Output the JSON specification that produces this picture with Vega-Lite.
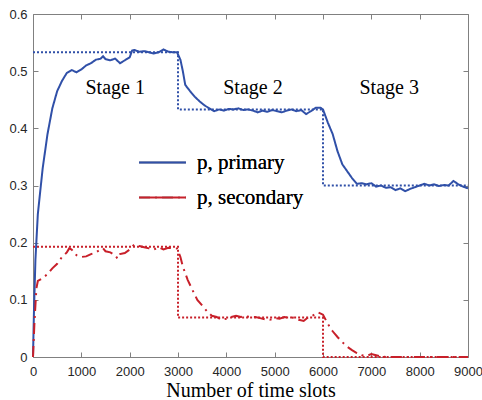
{
  "$schema": "https://vega.github.io/schema/vega-lite/v6.json",
  "width": 435,
  "height": 343,
  "autosize": "none",
  "padding": {"left": 33, "top": 14, "right": 14, "bottom": 43},
  "background": "white",
  "config": {
    "view": {"stroke": null},
    "axis": {
      "grid": false,
      "domainColor": "#808080",
      "tickColor": "#808080",
      "tickSize": -5,
      "labelFlush": false,
      "labelFont": "Liberation Sans",
      "labelFontSize": 13,
      "labelColor": "#262626",
      "titleFont": "Liberation Serif",
      "titleFontSize": 20,
      "titleFontWeight": "normal",
      "titleColor": "#000000"
    },
    "legend": {
      "orient": "none",
      "legendX": 105,
      "legendY": 124,
      "title": null,
      "labelFont": "Liberation Serif",
      "labelFontSize": 21,
      "labelColor": "#000000",
      "symbolType": "stroke",
      "symbolSize": 2200,
      "symbolStrokeWidth": 2,
      "labelOffset": 10,
      "rowPadding": -4
    }
  },
  "datasets": {
    "curves": [
      {"t": 0, "value": 0, "series": "p, primary"},
      {"t": 20, "value": 0.08, "series": "p, primary"},
      {"t": 50, "value": 0.17, "series": "p, primary"},
      {"t": 100, "value": 0.25, "series": "p, primary"},
      {"t": 150, "value": 0.29, "series": "p, primary"},
      {"t": 200, "value": 0.33, "series": "p, primary"},
      {"t": 300, "value": 0.39, "series": "p, primary"},
      {"t": 400, "value": 0.435, "series": "p, primary"},
      {"t": 500, "value": 0.465, "series": "p, primary"},
      {"t": 600, "value": 0.483, "series": "p, primary"},
      {"t": 700, "value": 0.497, "series": "p, primary"},
      {"t": 800, "value": 0.502, "series": "p, primary"},
      {"t": 900, "value": 0.498, "series": "p, primary"},
      {"t": 1000, "value": 0.503, "series": "p, primary"},
      {"t": 1100, "value": 0.51, "series": "p, primary"},
      {"t": 1200, "value": 0.514, "series": "p, primary"},
      {"t": 1300, "value": 0.52, "series": "p, primary"},
      {"t": 1400, "value": 0.522, "series": "p, primary"},
      {"t": 1450, "value": 0.526, "series": "p, primary"},
      {"t": 1500, "value": 0.521, "series": "p, primary"},
      {"t": 1600, "value": 0.519, "series": "p, primary"},
      {"t": 1700, "value": 0.522, "series": "p, primary"},
      {"t": 1800, "value": 0.514, "series": "p, primary"},
      {"t": 1900, "value": 0.519, "series": "p, primary"},
      {"t": 2000, "value": 0.524, "series": "p, primary"},
      {"t": 2050, "value": 0.536, "series": "p, primary"},
      {"t": 2100, "value": 0.537, "series": "p, primary"},
      {"t": 2200, "value": 0.534, "series": "p, primary"},
      {"t": 2300, "value": 0.535, "series": "p, primary"},
      {"t": 2400, "value": 0.533, "series": "p, primary"},
      {"t": 2500, "value": 0.531, "series": "p, primary"},
      {"t": 2600, "value": 0.533, "series": "p, primary"},
      {"t": 2700, "value": 0.538, "series": "p, primary"},
      {"t": 2800, "value": 0.534, "series": "p, primary"},
      {"t": 2900, "value": 0.533, "series": "p, primary"},
      {"t": 2980, "value": 0.533, "series": "p, primary"},
      {"t": 3050, "value": 0.52, "series": "p, primary"},
      {"t": 3100, "value": 0.5, "series": "p, primary"},
      {"t": 3150, "value": 0.476, "series": "p, primary"},
      {"t": 3250, "value": 0.465, "series": "p, primary"},
      {"t": 3350, "value": 0.455, "series": "p, primary"},
      {"t": 3450, "value": 0.447, "series": "p, primary"},
      {"t": 3550, "value": 0.44, "series": "p, primary"},
      {"t": 3650, "value": 0.435, "series": "p, primary"},
      {"t": 3750, "value": 0.43, "series": "p, primary"},
      {"t": 3850, "value": 0.433, "series": "p, primary"},
      {"t": 3950, "value": 0.431, "series": "p, primary"},
      {"t": 4050, "value": 0.434, "series": "p, primary"},
      {"t": 4150, "value": 0.433, "series": "p, primary"},
      {"t": 4250, "value": 0.435, "series": "p, primary"},
      {"t": 4350, "value": 0.432, "series": "p, primary"},
      {"t": 4450, "value": 0.433, "series": "p, primary"},
      {"t": 4550, "value": 0.431, "series": "p, primary"},
      {"t": 4650, "value": 0.428, "series": "p, primary"},
      {"t": 4750, "value": 0.431, "series": "p, primary"},
      {"t": 4850, "value": 0.429, "series": "p, primary"},
      {"t": 4950, "value": 0.432, "series": "p, primary"},
      {"t": 5050, "value": 0.43, "series": "p, primary"},
      {"t": 5150, "value": 0.428, "series": "p, primary"},
      {"t": 5250, "value": 0.431, "series": "p, primary"},
      {"t": 5350, "value": 0.433, "series": "p, primary"},
      {"t": 5450, "value": 0.43, "series": "p, primary"},
      {"t": 5550, "value": 0.432, "series": "p, primary"},
      {"t": 5650, "value": 0.425, "series": "p, primary"},
      {"t": 5750, "value": 0.43, "series": "p, primary"},
      {"t": 5850, "value": 0.436, "series": "p, primary"},
      {"t": 5950, "value": 0.436, "series": "p, primary"},
      {"t": 6000, "value": 0.433, "series": "p, primary"},
      {"t": 6100, "value": 0.41, "series": "p, primary"},
      {"t": 6200, "value": 0.39, "series": "p, primary"},
      {"t": 6300, "value": 0.36, "series": "p, primary"},
      {"t": 6400, "value": 0.337, "series": "p, primary"},
      {"t": 6500, "value": 0.325, "series": "p, primary"},
      {"t": 6600, "value": 0.313, "series": "p, primary"},
      {"t": 6700, "value": 0.303, "series": "p, primary"},
      {"t": 6800, "value": 0.304, "series": "p, primary"},
      {"t": 6900, "value": 0.302, "series": "p, primary"},
      {"t": 7000, "value": 0.304, "series": "p, primary"},
      {"t": 7100, "value": 0.298, "series": "p, primary"},
      {"t": 7200, "value": 0.3, "series": "p, primary"},
      {"t": 7300, "value": 0.296, "series": "p, primary"},
      {"t": 7400, "value": 0.297, "series": "p, primary"},
      {"t": 7500, "value": 0.292, "series": "p, primary"},
      {"t": 7600, "value": 0.295, "series": "p, primary"},
      {"t": 7700, "value": 0.29, "series": "p, primary"},
      {"t": 7800, "value": 0.294, "series": "p, primary"},
      {"t": 7900, "value": 0.297, "series": "p, primary"},
      {"t": 8000, "value": 0.3, "series": "p, primary"},
      {"t": 8100, "value": 0.303, "series": "p, primary"},
      {"t": 8200, "value": 0.3, "series": "p, primary"},
      {"t": 8300, "value": 0.302, "series": "p, primary"},
      {"t": 8400, "value": 0.299, "series": "p, primary"},
      {"t": 8500, "value": 0.301, "series": "p, primary"},
      {"t": 8600, "value": 0.3, "series": "p, primary"},
      {"t": 8700, "value": 0.308, "series": "p, primary"},
      {"t": 8800, "value": 0.302, "series": "p, primary"},
      {"t": 8900, "value": 0.298, "series": "p, primary"},
      {"t": 9000, "value": 0.295, "series": "p, primary"},
      {"t": 0, "value": 0, "series": "p, secondary"},
      {"t": 30, "value": 0.06, "series": "p, secondary"},
      {"t": 70, "value": 0.12, "series": "p, secondary"},
      {"t": 100, "value": 0.133, "series": "p, secondary"},
      {"t": 200, "value": 0.138, "series": "p, secondary"},
      {"t": 300, "value": 0.145, "series": "p, secondary"},
      {"t": 400, "value": 0.155, "series": "p, secondary"},
      {"t": 500, "value": 0.163, "series": "p, secondary"},
      {"t": 600, "value": 0.175, "series": "p, secondary"},
      {"t": 700, "value": 0.183, "series": "p, secondary"},
      {"t": 750, "value": 0.19, "series": "p, secondary"},
      {"t": 800, "value": 0.188, "series": "p, secondary"},
      {"t": 900, "value": 0.178, "series": "p, secondary"},
      {"t": 1000, "value": 0.175, "series": "p, secondary"},
      {"t": 1100, "value": 0.176, "series": "p, secondary"},
      {"t": 1200, "value": 0.18, "series": "p, secondary"},
      {"t": 1300, "value": 0.183, "series": "p, secondary"},
      {"t": 1400, "value": 0.188, "series": "p, secondary"},
      {"t": 1450, "value": 0.19, "series": "p, secondary"},
      {"t": 1500, "value": 0.185, "series": "p, secondary"},
      {"t": 1600, "value": 0.183, "series": "p, secondary"},
      {"t": 1700, "value": 0.178, "series": "p, secondary"},
      {"t": 1750, "value": 0.172, "series": "p, secondary"},
      {"t": 1800, "value": 0.18, "series": "p, secondary"},
      {"t": 1900, "value": 0.182, "series": "p, secondary"},
      {"t": 2000, "value": 0.188, "series": "p, secondary"},
      {"t": 2100, "value": 0.197, "series": "p, secondary"},
      {"t": 2200, "value": 0.194, "series": "p, secondary"},
      {"t": 2300, "value": 0.192, "series": "p, secondary"},
      {"t": 2400, "value": 0.19, "series": "p, secondary"},
      {"t": 2500, "value": 0.188, "series": "p, secondary"},
      {"t": 2600, "value": 0.192, "series": "p, secondary"},
      {"t": 2700, "value": 0.188, "series": "p, secondary"},
      {"t": 2800, "value": 0.191, "series": "p, secondary"},
      {"t": 2900, "value": 0.19, "series": "p, secondary"},
      {"t": 2980, "value": 0.19, "series": "p, secondary"},
      {"t": 3050, "value": 0.175, "series": "p, secondary"},
      {"t": 3100, "value": 0.158, "series": "p, secondary"},
      {"t": 3200, "value": 0.135, "series": "p, secondary"},
      {"t": 3300, "value": 0.117, "series": "p, secondary"},
      {"t": 3400, "value": 0.1, "series": "p, secondary"},
      {"t": 3500, "value": 0.09, "series": "p, secondary"},
      {"t": 3600, "value": 0.08, "series": "p, secondary"},
      {"t": 3700, "value": 0.072, "series": "p, secondary"},
      {"t": 3800, "value": 0.07, "series": "p, secondary"},
      {"t": 3900, "value": 0.065, "series": "p, secondary"},
      {"t": 4000, "value": 0.067, "series": "p, secondary"},
      {"t": 4100, "value": 0.07, "series": "p, secondary"},
      {"t": 4200, "value": 0.072, "series": "p, secondary"},
      {"t": 4300, "value": 0.07, "series": "p, secondary"},
      {"t": 4400, "value": 0.071, "series": "p, secondary"},
      {"t": 4500, "value": 0.07, "series": "p, secondary"},
      {"t": 4600, "value": 0.07, "series": "p, secondary"},
      {"t": 4700, "value": 0.068, "series": "p, secondary"},
      {"t": 4800, "value": 0.066, "series": "p, secondary"},
      {"t": 4900, "value": 0.065, "series": "p, secondary"},
      {"t": 5000, "value": 0.068, "series": "p, secondary"},
      {"t": 5100, "value": 0.067, "series": "p, secondary"},
      {"t": 5200, "value": 0.07, "series": "p, secondary"},
      {"t": 5300, "value": 0.068, "series": "p, secondary"},
      {"t": 5400, "value": 0.069, "series": "p, secondary"},
      {"t": 5500, "value": 0.065, "series": "p, secondary"},
      {"t": 5600, "value": 0.063, "series": "p, secondary"},
      {"t": 5700, "value": 0.07, "series": "p, secondary"},
      {"t": 5800, "value": 0.073, "series": "p, secondary"},
      {"t": 5900, "value": 0.078, "series": "p, secondary"},
      {"t": 6000, "value": 0.074, "series": "p, secondary"},
      {"t": 6100, "value": 0.058, "series": "p, secondary"},
      {"t": 6200, "value": 0.045, "series": "p, secondary"},
      {"t": 6300, "value": 0.035, "series": "p, secondary"},
      {"t": 6400, "value": 0.026, "series": "p, secondary"},
      {"t": 6500, "value": 0.018, "series": "p, secondary"},
      {"t": 6600, "value": 0.012, "series": "p, secondary"},
      {"t": 6700, "value": 0.007, "series": "p, secondary"},
      {"t": 6800, "value": 0.003, "series": "p, secondary"},
      {"t": 6900, "value": 0.002, "series": "p, secondary"},
      {"t": 7000, "value": 0.005, "series": "p, secondary"},
      {"t": 7100, "value": 0.003, "series": "p, secondary"},
      {"t": 7200, "value": 0.001, "series": "p, secondary"},
      {"t": 7300, "value": 0, "series": "p, secondary"},
      {"t": 8000, "value": 0, "series": "p, secondary"},
      {"t": 9000, "value": 0, "series": "p, secondary"}
    ],
    "targets": [
      {"i": 0, "t": 0, "value": 0.533, "series": "primary target"},
      {"i": 1, "t": 3000, "value": 0.533, "series": "primary target"},
      {"i": 2, "t": 3000, "value": 0.433, "series": "primary target"},
      {"i": 3, "t": 6000, "value": 0.433, "series": "primary target"},
      {"i": 4, "t": 6000, "value": 0.3, "series": "primary target"},
      {"i": 5, "t": 9000, "value": 0.3, "series": "primary target"},
      {"i": 0, "t": 0, "value": 0.193, "series": "secondary target"},
      {"i": 1, "t": 3000, "value": 0.193, "series": "secondary target"},
      {"i": 2, "t": 3000, "value": 0.069, "series": "secondary target"},
      {"i": 3, "t": 6000, "value": 0.069, "series": "secondary target"},
      {"i": 4, "t": 6000, "value": 0.0, "series": "secondary target"},
      {"i": 5, "t": 9000, "value": 0.0, "series": "secondary target"}
    ],
    "stages": [
      {"t": 1700, "value": 0.47, "label": "Stage 1"},
      {"t": 4550, "value": 0.47, "label": "Stage 2"},
      {"t": 7370, "value": 0.47, "label": "Stage 3"}
    ]
  },
  "layer": [
    {
      "data": {"name": "targets"},
      "mark": {"type": "line", "strokeDash": [2, 2], "strokeWidth": 2, "clip": false},
      "encoding": {
        "x": {"field": "t", "type": "quantitative", "scale": {"domain": [0, 9000], "nice": false},
              "axis": {"orient": "top", "labels": false, "title": null, "values": [0,1000,2000,3000,4000,5000,6000,7000,8000,9000]}},
        "y": {"field": "value", "type": "quantitative", "scale": {"domain": [0, 0.6], "nice": false},
              "axis": {"orient": "right", "labels": false, "title": null, "values": [0,0.1,0.2,0.3,0.4,0.5,0.6]}},
        "color": {"field": "series", "type": "nominal",
                  "scale": {"domain": ["primary target", "secondary target"], "range": ["#3050a8", "#c8202a"]}, "legend": null},
        "order": {"field": "i", "type": "quantitative"}
      }
    },
    {
      "data": {"name": "curves"},
      "mark": {"type": "line", "strokeWidth": 2},
      "encoding": {
        "x": {"field": "t", "type": "quantitative",
              "axis": {"orient": "bottom", "title": "Number of time slots", "format": "d", "labelPadding": 13, "titlePadding": 2,
                       "values": [0,1000,2000,3000,4000,5000,6000,7000,8000,9000]}},
        "y": {"field": "value", "type": "quantitative",
              "axis": {"orient": "left", "title": null, "format": "~g", "labelPadding": 11,
                       "values": [0,0.1,0.2,0.3,0.4,0.5,0.6]}},
        "color": {"field": "series", "type": "nominal",
                  "scale": {"domain": ["p, primary", "p, secondary"], "range": ["#3050a8", "#c8202a"]}},
        "strokeDash": {"field": "series", "type": "nominal",
                       "scale": {"domain": ["p, primary", "p, secondary"], "range": [[1, 0], [11, 5, 2, 5]]}}
      }
    },
    {
      "data": {"name": "stages"},
      "mark": {"type": "text", "font": "Liberation Serif", "fontSize": 20, "color": "#000000", "align": "center", "baseline": "middle"},
      "encoding": {
        "x": {"field": "t", "type": "quantitative", "axis": null},
        "y": {"field": "value", "type": "quantitative", "axis": null},
        "text": {"field": "label"}
      }
    }
  ],
  "resolve": {"axis": {"x": "independent", "y": "independent"}, "scale": {"color": "independent"}}
}
